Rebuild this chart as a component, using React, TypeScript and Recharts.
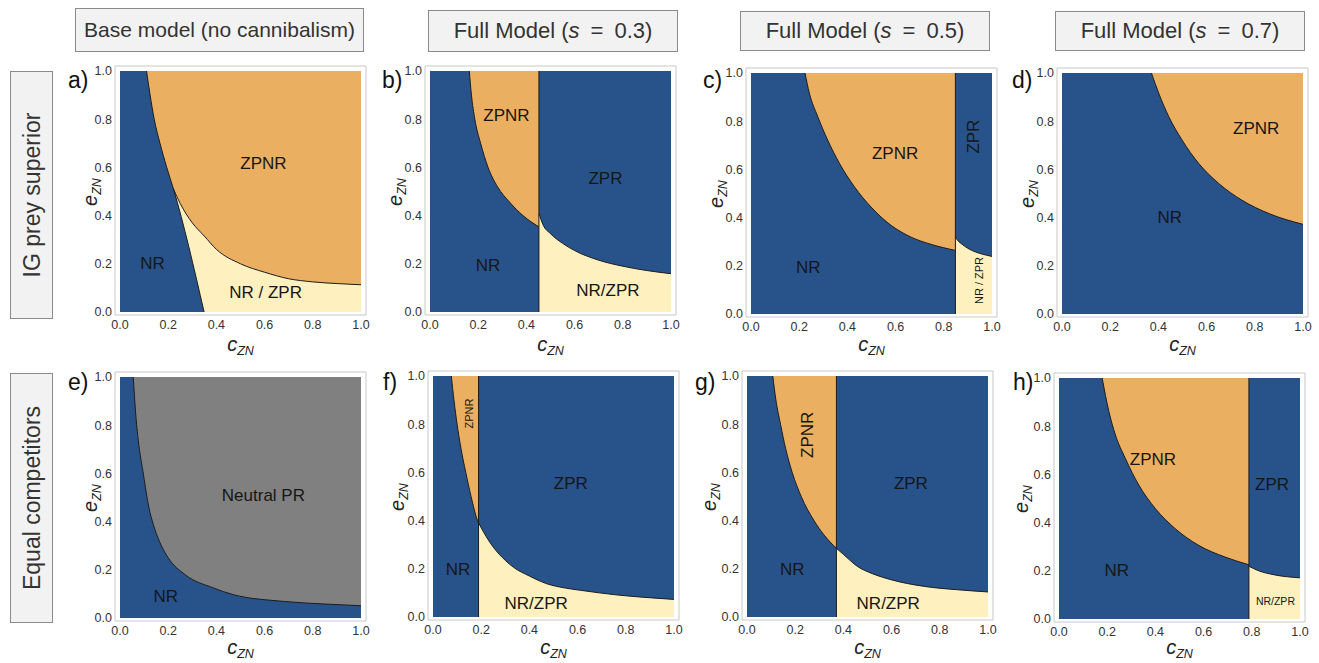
import React from 'react';
import { ComposedChart, Area, Line, XAxis, YAxis, ReferenceLine, ReferenceDot, ReferenceArea } from 'recharts';

const FONT = '"Liberation Sans", Arial, Helvetica, sans-serif';
const BLUE = '#27538a';
const ORANGE = '#ebaf62';
const YELLOW = '#fef0bf';
const GRAY = '#808080';
const EDGE = '#1c1c1c';

type Pt = [number, number];

// ---- boundary data: [c_ZN, e_ZN] (upper edge of the NR region, top edge of NR/ZPR) ----
const aNR: Pt[] = [[0, 1], [0.11, 1], [0.125, 0.9], [0.142, 0.8], [0.166, 0.7], [0.194, 0.6], [0.222, 0.51], [0.349, 0]];
const aYellow: Pt[] = [[0.222, 0.51], [0.25, 0.45], [0.3, 0.37], [0.35, 0.315], [0.4, 0.26], [0.5, 0.2], [0.6, 0.165], [0.7, 0.138], [0.8, 0.125], [0.9, 0.118], [1, 0.113]];

const bNR: Pt[] = [[0, 1], [0.163, 1], [0.172, 0.9], [0.186, 0.8], [0.21, 0.7], [0.241, 0.6], [0.28, 0.52], [0.331, 0.455], [0.386, 0.4], [0.452, 0.353]];
const bYellow: Pt[] = [[0.452, 0.409], [0.47, 0.36], [0.5, 0.325], [0.55, 0.285], [0.6, 0.255], [0.7, 0.215], [0.8, 0.19], [0.9, 0.172], [1, 0.159]];
const bSplit = 0.452;

const cNR: Pt[] = [[0, 1], [0.224, 1], [0.242, 0.917], [0.277, 0.819], [0.318, 0.722], [0.367, 0.625], [0.429, 0.528], [0.498, 0.444], [0.581, 0.368], [0.664, 0.319], [0.747, 0.289], [0.848, 0.264]];
const cYellow: Pt[] = [[0.848, 0.322], [0.857, 0.306], [0.875, 0.29], [0.899, 0.273], [0.93, 0.258], [0.954, 0.25], [1, 0.239]];
const cSplit = 0.848;

const dNR: Pt[] = [[0, 1], [0.371, 1], [0.401, 0.917], [0.443, 0.819], [0.498, 0.722], [0.567, 0.625], [0.65, 0.542], [0.747, 0.472], [0.858, 0.417], [1, 0.372]];

const eNR: Pt[] = [[0, 1], [0.055, 1], [0.065, 0.85], [0.076, 0.736], [0.097, 0.597], [0.12, 0.458], [0.138, 0.389], [0.163, 0.319], [0.2, 0.25], [0.27, 0.18], [0.387, 0.125], [0.47, 0.097], [0.678, 0.069], [0.85, 0.058], [1, 0.051]];

const fNR: Pt[] = [[0, 1], [0.076, 1], [0.087, 0.9], [0.1, 0.8], [0.116, 0.7], [0.136, 0.6], [0.158, 0.5], [0.185, 0.4], [0.189, 0.391]];
const fYellow: Pt[] = [[0.189, 0.391], [0.22, 0.335], [0.25, 0.29], [0.3, 0.235], [0.333, 0.207], [0.4, 0.17], [0.472, 0.138], [0.55, 0.12], [0.611, 0.111], [0.75, 0.093], [0.87, 0.082], [1, 0.073]];
const fSplit = 0.189;

const gNR: Pt[] = [[0, 1], [0.107, 1], [0.12, 0.9], [0.139, 0.8], [0.16, 0.7], [0.1875, 0.6], [0.225, 0.5], [0.278, 0.4], [0.32, 0.34], [0.371, 0.285]];
const gYellow: Pt[] = [[0.371, 0.285], [0.4, 0.26], [0.458, 0.21], [0.52, 0.18], [0.597, 0.155], [0.736, 0.127], [0.875, 0.113], [1, 0.104]];
const gSplit = 0.371;

const hNR: Pt[] = [[0, 1], [0.179, 1], [0.207, 0.861], [0.234, 0.764], [0.275, 0.667], [0.331, 0.556], [0.4, 0.458], [0.482, 0.375], [0.579, 0.306], [0.689, 0.257], [0.788, 0.225]];
const hYellow: Pt[] = [[0.788, 0.219], [0.826, 0.201], [0.895, 0.183], [1, 0.171]];
const hSplit = 0.788;

const axisTicks = [0, 0.2, 0.4, 0.6, 0.8, 1.0];
const colTitles = ['Base model (no cannibalism)', 'Full Model (s = 0.3)', 'Full Model (s = 0.5)', 'Full Model (s = 0.7)'];
const rowTitles = ['IG prey superior', 'Equal competitors'];
const panelLetters = ['a)', 'b)', 'c)', 'd)', 'e)', 'f)', 'g)', 'h)'];

type Lab = { c: number; e: number; t: string; fs?: number; rot?: boolean };
const aLabels: Lab[] = [{ c: 0.595, e: 0.616, t: 'ZPNR' }, { c: 0.135, e: 0.2, t: 'NR' }, { c: 0.604, e: 0.083, t: 'NR / ZPR' }];
const bLabels: Lab[] = [{ c: 0.317, e: 0.817, t: 'ZPNR' }, { c: 0.728, e: 0.554, t: 'ZPR' }, { c: 0.241, e: 0.194, t: 'NR' }, { c: 0.738, e: 0.09, t: 'NR/ZPR' }];
const cLabels: Lab[] = [{ c: 0.598, e: 0.667, t: 'ZPNR' }, { c: 0.924, e: 0.736, t: 'ZPR', rot: true }, { c: 0.238, e: 0.194, t: 'NR' }, { c: 0.945, e: 0.139, t: 'NR / ZPR', fs: 11, rot: true }];
const dLabels: Lab[] = [{ c: 0.806, e: 0.768, t: 'ZPNR' }, { c: 0.447, e: 0.4, t: 'NR' }];
const eLabels: Lab[] = [{ c: 0.595, e: 0.507, t: 'Neutral PR' }, { c: 0.19, e: 0.09, t: 'NR' }];
const fLabels: Lab[] = [{ c: 0.15, e: 0.844, t: 'ZPNR', fs: 11, rot: true }, { c: 0.572, e: 0.556, t: 'ZPR' }, { c: 0.104, e: 0.196, t: 'NR' }, { c: 0.428, e: 0.058, t: 'NR/ZPR' }];
const gLabels: Lab[] = [{ c: 0.253, e: 0.756, t: 'ZPNR', rot: true }, { c: 0.68, e: 0.555, t: 'ZPR' }, { c: 0.1875, e: 0.196, t: 'NR' }, { c: 0.586, e: 0.058, t: 'NR/ZPR' }];
const hLabels: Lab[] = [{ c: 0.39, e: 0.66, t: 'ZPNR' }, { c: 0.884, e: 0.557, t: 'ZPR' }, { c: 0.24, e: 0.2, t: 'NR' }, { c: 0.898, e: 0.076, t: 'NR/ZPR', fs: 10.5 }];

// ---- smooth curve factory: straight for flat runs, monotone cubic elsewhere ----
function drawMonotone(ctx: any, run: number[][]) {
  const m = run.length;
  const h: number[] = [];
  const s: number[] = [];
  for (let k = 0; k < m - 1; k++) {
    h[k] = run[k + 1][0] - run[k][0];
    s[k] = (run[k + 1][1] - run[k][1]) / h[k];
  }
  const t: number[] = new Array(m).fill(0);
  if (m === 2) {
    t[0] = s[0];
    t[1] = s[0];
  } else {
    for (let k = 1; k < m - 1; k++) {
      const p = (s[k - 1] * h[k] + s[k] * h[k - 1]) / (h[k - 1] + h[k]);
      t[k] = (Math.sign(s[k - 1]) + Math.sign(s[k])) * Math.min(Math.abs(s[k - 1]), Math.abs(s[k]), 0.5 * Math.abs(p)) || 0;
    }
    t[0] = (3 * s[0] - t[1]) / 2;
    t[m - 1] = (3 * s[m - 2] - t[m - 2]) / 2;
  }
  for (let k = 0; k < m - 1; k++) {
    const dx = h[k] / 3;
    ctx.bezierCurveTo(run[k][0] + dx, run[k][1] + dx * t[k], run[k + 1][0] - dx, run[k + 1][1] - dx * t[k + 1], run[k + 1][0], run[k + 1][1]);
  }
}

function emitPath(ctx: any, pts: number[][], line: number) {
  const n = pts.length;
  if (!n) return;
  if (line) ctx.lineTo(pts[0][0], pts[0][1]);
  else ctx.moveTo(pts[0][0], pts[0][1]);
  let i = 0;
  const flat = (a: number[], b: number[]) => Math.abs(a[1] - b[1]) < 1e-6 || Math.abs(a[0] - b[0]) < 1e-6;
  while (i < n - 1) {
    if (flat(pts[i], pts[i + 1])) {
      ctx.lineTo(pts[i + 1][0], pts[i + 1][1]);
      i++;
      continue;
    }
    let j = i + 1;
    while (j < n - 1 && !flat(pts[j], pts[j + 1])) j++;
    drawMonotone(ctx, pts.slice(i, j + 1));
    i = j;
  }
}

const smoothCurve: any = (context: any) => {
  let pts: number[][] = [];
  let line = NaN;
  return {
    areaStart() { line = 0; },
    areaEnd() { line = NaN; },
    lineStart() { pts = []; },
    lineEnd() {
      emitPath(context, pts, line);
      if (line || (line !== 0 && pts.length === 1)) context.closePath();
      line = 1 - line;
    },
    point(x: number, y: number) { pts.push([+x, +y]); },
  };
};

// ---- layout ----
type PanelCfg = {
  x0: number; y0: number; bg: string; nr: Pt[]; yellow: Pt[] | null; split: number | null;
  labels: Lab[]; ylabX: number; letterX: number; row: number;
};
const panels: PanelCfg[] = [
  { x0: 120, y0: 71, bg: ORANGE, nr: aNR, yellow: aYellow, split: null, labels: aLabels, ylabX: 90, letterX: 68, row: 0 },
  { x0: 430, y0: 71, bg: BLUE, nr: bNR, yellow: bYellow, split: bSplit, labels: bLabels, ylabX: 395, letterX: 382, row: 0 },
  { x0: 751, y0: 73, bg: BLUE, nr: cNR, yellow: cYellow, split: cSplit, labels: cLabels, ylabX: 716, letterX: 703, row: 0 },
  { x0: 1062, y0: 73, bg: ORANGE, nr: dNR, yellow: null, split: null, labels: dLabels, ylabX: 1027, letterX: 1012, row: 0 },
  { x0: 120, y0: 377, bg: GRAY, nr: eNR, yellow: null, split: null, labels: eLabels, ylabX: 90, letterX: 68, row: 1 },
  { x0: 433, y0: 376, bg: BLUE, nr: fNR, yellow: fYellow, split: fSplit, labels: fLabels, ylabX: 397, letterX: 383, row: 1 },
  { x0: 747, y0: 376, bg: BLUE, nr: gNR, yellow: gYellow, split: gSplit, labels: gLabels, ylabX: 709, letterX: 695, row: 1 },
  { x0: 1059, y0: 378, bg: BLUE, nr: hNR, yellow: hYellow, split: hSplit, labels: hLabels, ylabX: 1021, letterX: 1013, row: 1 },
];

const PLOT = 241;
const XD: [number, number] = [-0.0207, 1.0207];
const YD: [number, number] = [-0.0124, 1.0207];
const YAW = 30;
const XAH = 24;
const MT = 2;
const MR = 12;
const FW = Math.round(PLOT * (XD[1] - XD[0]));
const FH = Math.round(PLOT * (YD[1] - YD[0]));

function Panel({ p }: { p: PanelCfg }) {
  const rows: any[] = [];
  rows.push({ c: 0, bg: 1 }, { c: 1, bg: 1 });
  if (p.split !== null) {
    const top = p.nr[1][0];
    rows.push({ c: top, rect: 1 }, { c: p.split, rect: 1 });
  }
  if (p.yellow) p.yellow.forEach(([c, e]) => rows.push({ c, yel: e }));
  p.nr.forEach(([c, e], i) => rows.push({ c, nr: e, nrL: i >= 1 ? e : undefined }));
  rows.sort((a, b) => a.c - b.c);

  const W = YAW + FW + MR;
  const H = MT + FH + XAH;
  const tick = { fontSize: 12.5, fill: '#333', fontFamily: FONT };
  return (
    <div style={{ position: 'absolute', left: p.x0 - 5 - YAW, top: p.y0 - 5 - MT }}>
      <ComposedChart width={W} height={H} data={rows} margin={{ top: MT, right: MR, left: 0, bottom: 0 }}>
        <XAxis dataKey="c" type="number" domain={XD} ticks={axisTicks} allowDataOverflow
          tickFormatter={(v: number) => v.toFixed(1)} tick={tick} tickLine={false} axisLine={false}
          tickSize={0} tickMargin={5} height={XAH} interval={0} />
        <YAxis type="number" domain={YD} ticks={axisTicks} allowDataOverflow
          tickFormatter={(v: number) => v.toFixed(1)} tick={tick} tickLine={false} axisLine={false}
          tickSize={0} tickMargin={3} width={YAW} interval={0} />
        <ReferenceArea x1={XD[0]} x2={XD[1]} y1={YD[0]} y2={YD[1]} fill="none" stroke="#c8c8c8" strokeWidth={1} ifOverflow="visible" />
        <Area dataKey="bg" type="linear" fill={p.bg} fillOpacity={1} stroke="none" connectNulls isAnimationActive={false} dot={false} activeDot={false} />
        {p.split !== null && (
          <Area dataKey="rect" type="linear" fill={ORANGE} fillOpacity={1} stroke="none" connectNulls isAnimationActive={false} dot={false} activeDot={false} />
        )}
        {p.yellow && (
          <Area dataKey="yel" type={smoothCurve} fill={YELLOW} fillOpacity={1} stroke="none" connectNulls isAnimationActive={false} dot={false} activeDot={false} />
        )}
        <Area dataKey="nr" type={smoothCurve} fill={BLUE} fillOpacity={1} stroke="none" connectNulls isAnimationActive={false} dot={false} activeDot={false} />
        {p.yellow && (
          <Line dataKey="yel" type={smoothCurve} stroke={EDGE} strokeWidth={1} dot={false} activeDot={false} connectNulls isAnimationActive={false} />
        )}
        <Line dataKey="nrL" type={smoothCurve} stroke={EDGE} strokeWidth={1} dot={false} activeDot={false} connectNulls isAnimationActive={false} />
        {p.split !== null && (
          <ReferenceLine segment={[{ x: p.split, y: 0 }, { x: p.split, y: 1 }]} stroke={EDGE} strokeWidth={1} ifOverflow="visible" />
        )}
        {p.labels.map((l, i) => (
          <ReferenceDot key={i} x={l.c} y={l.e} r={0} ifOverflow="visible"
            shape={(sp: any) => (
              <text x={sp.cx} y={sp.cy} textAnchor="middle" dominantBaseline="central"
                fontFamily={FONT} fontSize={l.fs ?? 17} fill="#161616"
                transform={l.rot ? `rotate(-90 ${sp.cx} ${sp.cy})` : undefined}>{l.t}</text>
            )} />
        ))}
      </ComposedChart>
    </div>
  );
}

function AxisVar({ v }: { v: string }) {
  return (
    <span style={{ fontFamily: FONT, color: '#222', whiteSpace: 'nowrap' }}>
      <i style={{ fontSize: 20 }}>{v}</i>
      <i style={{ fontSize: 12.5, position: 'relative', top: 4 }}>ZN</i>
    </span>
  );
}

function TitleText({ t }: { t: string }) {
  const m = t.match(/^(.*\()s = (.*)$/);
  if (!m) return <span style={{ fontSize: 21 }}>{t}</span>;
  return <span style={{ fontSize: 22 }}>{m[1]}<i>s</i>{'\u2002=\u2002'}{m[2]}</span>;
}

const colBoxes = [
  { l: 75, t: 8, w: 289, h: 44 },
  { l: 428, t: 10, w: 250, h: 42 },
  { l: 740, t: 11, w: 250, h: 40 },
  { l: 1055, t: 11, w: 250, h: 40 },
];
const rowBoxes = [
  { l: 10, t: 71, w: 43, h: 248 },
  { l: 10, t: 373, w: 43, h: 250 },
];

export default function App() {
  return (
    <div style={{ position: 'absolute', left: 0, top: 0, width: 1319, height: 663, background: '#fff', fontFamily: FONT, overflow: 'hidden' }}>
      {colBoxes.map((b, i) => (
        <div key={'c' + i} style={{
          position: 'absolute', left: b.l, top: b.t, width: b.w, height: b.h, boxSizing: 'border-box',
          background: '#f2f2f2', border: '1.5px solid #8a8a8a', display: 'flex', alignItems: 'center',
          justifyContent: 'center', color: '#333', whiteSpace: 'pre'
        }}><TitleText t={colTitles[i]} /></div>
      ))}
      {rowBoxes.map((b, i) => (
        <div key={'r' + i} style={{
          position: 'absolute', left: b.l, top: b.t, width: b.w, height: b.h, boxSizing: 'border-box',
          background: '#f2f2f2', border: '1.5px solid #8a8a8a'
        }}>
          <div style={{
            position: 'absolute', left: '50%', top: '50%', transform: 'translate(-50%, -50%) rotate(-90deg)',
            fontSize: 23, color: '#333', whiteSpace: 'nowrap'
          }}>{rowTitles[i]}</div>
        </div>
      ))}
      {panels.map((p, i) => (
        <React.Fragment key={i}>
          <Panel p={p} />
          <div style={{ position: 'absolute', left: p.letterX, top: p.row === 0 ? 69 : 371, fontSize: 23, lineHeight: 1, color: '#111' }}>{panelLetters[i]}</div>
          <div style={{
            position: 'absolute', left: p.ylabX, top: p.y0 + PLOT / 2, transform: 'translate(-50%, -50%) rotate(-90deg)', lineHeight: 1
          }}><AxisVar v="e" /></div>
          <div style={{
            position: 'absolute', left: p.x0 + PLOT / 2, top: p.row === 0 ? 344 : 647, transform: 'translate(-50%, -50%)', lineHeight: 1
          }}><AxisVar v="c" /></div>
        </React.Fragment>
      ))}
    </div>
  );
}
